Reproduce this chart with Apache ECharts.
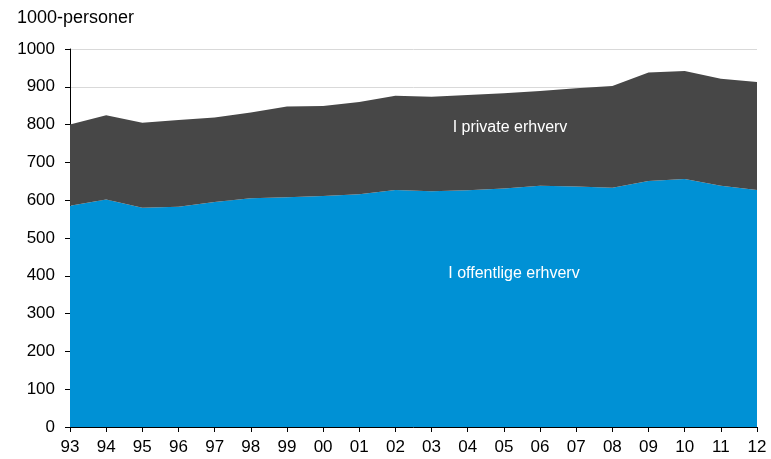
<!DOCTYPE html>
<html><head><meta charset="utf-8">
<script src="https://cdn.jsdelivr.net/npm/echarts@6/dist/echarts.min.js"></script>
<style>html,body{margin:0;padding:0;background:#fff}#c{width:771px;height:459px}</style>
</head><body><div id="c"></div>
<script>
const years = ['93','94','95','96','97','98','99','00','01','02','03','04','05','06','07','08','09','10','11','12'];
const offentlige = [585,602,580,583,595,605,608,611,616,627,624,626,631,638,636,633,651,656,638,627];
const total = [800,825,805,812,819,832,848,849,860,876,874,878,883,889,896,902,938,942,921,913];
const privat = total.map((t,i)=>t-offentlige[i]);
const yTicks = [0,100,200,300,400,500,600,700,800,900,1000];
const font = 'Liberation Sans, Arial, sans-serif';
const chart = echarts.init(document.getElementById('c'));
chart.setOption({
  animation:false,
  grid:{left:70,right:14,top:49,bottom:32},
  xAxis:{type:'category',data:years,boundaryGap:false,
    axisLine:{lineStyle:{color:'#000'}},
    axisTick:{show:true,length:5,lineStyle:{color:'#000'}},
    axisLabel:{color:'#000',fontSize:17,fontFamily:font,margin:12},
    splitLine:{show:false}},
  yAxis:{type:'value',min:yTicks[0],max:yTicks[yTicks.length-1],interval:100,
    axisLine:{show:true,lineStyle:{color:'#000'}},
    axisTick:{show:true,length:5,lineStyle:{color:'#000'}},
    axisLabel:{color:'#000',fontSize:17,fontFamily:font,margin:15,formatter:v=>String(v)},
    splitLine:{show:true,lineStyle:{color:'#d9d9d9'}}},
  graphic:[
    {type:'text',left:17,top:9,style:{text:'1000-personer',fill:'#000',font:'18px '+font}},
    {type:'text',x:510,y:128,style:{text:'I private erhverv',fill:'#fff',font:'16px '+font,align:'center',verticalAlign:'middle'},z:100},
    {type:'text',x:514,y:274,style:{text:'I offentlige erhverv',fill:'#fff',font:'16px '+font,align:'center',verticalAlign:'middle'},z:100}
  ],
  series:[
    {name:'I offentlige erhverv',type:'line',stack:'a',data:offentlige,symbol:'none',
      lineStyle:{width:0},areaStyle:{color:'#0091D5',opacity:1}},
    {name:'I private erhverv',type:'line',stack:'a',data:privat,symbol:'none',
      lineStyle:{width:0},areaStyle:{color:'#474747',opacity:1}}
  ]
});
</script></body></html>
